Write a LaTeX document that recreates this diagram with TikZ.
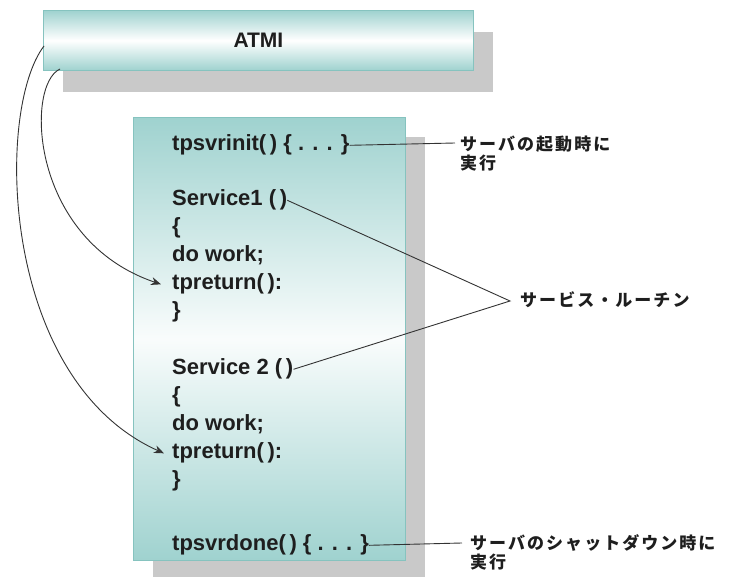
\documentclass[tikz,border=0pt]{standalone}
\usepackage{fontspec}
\setmainfont{Liberation Sans}
\newfontfamily\jpfont[LetterSpace=12]{Noto Sans CJK JP}
\usetikzlibrary{arrows.meta}
\definecolor{boxteal}{HTML}{9FD2CF}
\definecolor{boxedge}{HTML}{86C3BF}
\definecolor{shadowgray}{HTML}{C9C9C9}
\definecolor{linegray}{HTML}{333333}
\definecolor{txt}{HTML}{1E1E1E}
\begin{document}
\begin{tikzpicture}[x=1pt,y=-1pt,
  shadowbox/.style={fill=shadowgray,draw=none},
  panel/.style={draw=boxedge,line width=0.8pt,inner sep=0pt,anchor=north west},
  code/.style={anchor=base west,inner sep=0pt,text=txt,font=\bfseries\fontsize{22}{22}\selectfont},
  jlabel/.style={anchor=west,align=left,inner sep=0pt,text=txt,font=\jpfont\bfseries\fontsize{17}{19}\selectfont},
  conn/.style={draw=linegray,line width=0.9pt},
  arr/.style={conn,-{Stealth[length=10pt,width=8pt]}}]
\useasboundingbox (0,0) rectangle (732,577);
% shadows
\fill[shadowgray] (63,32) rectangle (493,92);
\fill[shadowgray] (153,137) rectangle (425,580);
% ATMI box
\node[panel,top color=boxteal,bottom color=boxteal,middle color=white,
      minimum width=430pt,minimum height=60pt,text=txt,
      font=\bfseries\fontsize{21}{21}\selectfont] (atmi) at (43,10) {ATMI};
% server box
\node[panel,top color=boxteal,bottom color=boxteal,middle color=white!94!boxteal,
      minimum width=272pt,minimum height=443pt] (srv) at (133,117) {};
% code lines
\node[code] (init) at (172,151) {tpsvrinit(\,) \{ . . . \}};
\node[code] (s1)   at (172,206) {Service1 (\,)};
\node[code] (ob1)  at (172,234) {\{};
\node[code] (w1)   at (172,262) {do work;};
\node[code] (r1)   at (172,290) {tpreturn(\,):};
\node[code] (cb1)  at (172,318) {\}};
\node[code] (s2)   at (172,375) {Service 2 (\,)};
\node[code] (ob2)  at (172,403) {\{};
\node[code] (w2)   at (172,431) {do work;};
\node[code] (r2)   at (172,459) {tpreturn(\,):};
\node[code] (cb2)  at (172,487) {\}};
\node[code] (done) at (172,551) {tpsvrdone(\,) \{ . . . \}};
% labels
\node[jlabel] (initlab) at (460,154) {サーバの起動時に\\実行};
\node[jlabel] (rout)    at (520,300) {サービス・ルーチン};
\node[jlabel] (donelab) at (470,552) {サーバのシャットダウン時に\\実行};
% connector points
\coordinate (initend) at (455,143);
\coordinate (junc) at (510,301);
\coordinate (doneend) at (462,543);
\coordinate (a1) at (44,46);
\coordinate (a2) at (60,69);
% connectors
\draw[conn] (init.east) -- (initend);
\draw[conn] (s1.east) -- (junc) -- (s2.east);
\draw[conn] (done.east) -- (doneend);
\draw[arr] (a2) .. controls (25,85) and (30,240) .. ([xshift=-11pt]r1.west);
\draw[arr] (a1) .. controls (-5,110) and (0,380) .. ([xshift=-8pt]r2.west);
\end{tikzpicture}
\end{document}
